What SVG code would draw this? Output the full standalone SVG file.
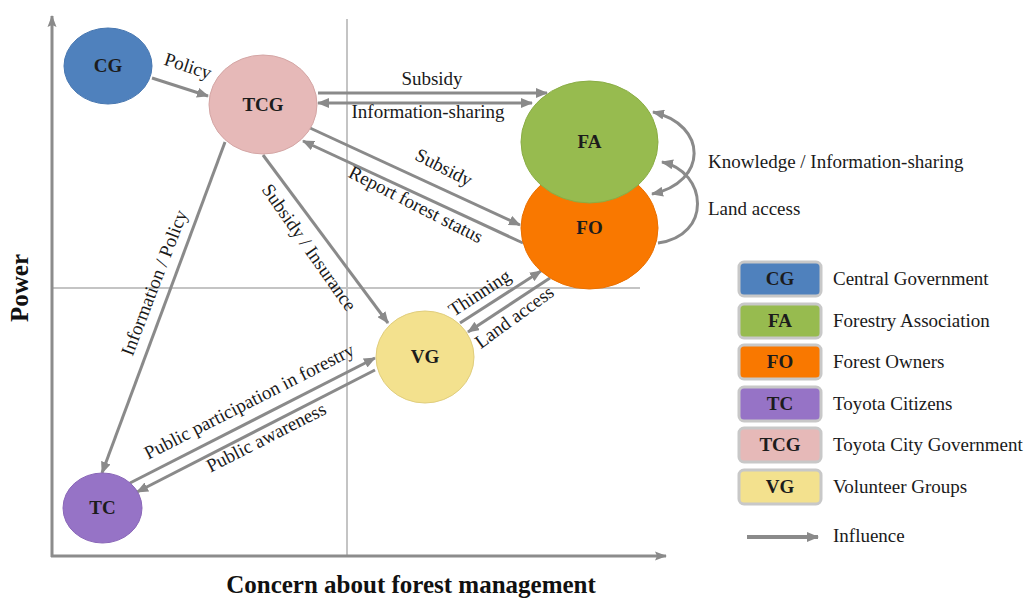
<svg xmlns="http://www.w3.org/2000/svg" width="1029" height="598" viewBox="0 0 1029 598">
  <defs>
    <marker id="arrow" viewBox="0 0 12 10" refX="11" refY="5" markerWidth="12" markerHeight="10" markerUnits="userSpaceOnUse" orient="auto-start-reverse">
      <path d="M0,0 L12,5 L0,10 z" fill="#8a8a8a"/>
    </marker>
    <marker id="axisHead" viewBox="0 0 12 10" refX="11" refY="5" markerWidth="12" markerHeight="10" markerUnits="userSpaceOnUse" orient="auto">
      <path d="M0,0.5 L12,5 L0,9.5 L2,5 z" fill="#8a8a8a"/>
    </marker>
    <style>
      .axis { stroke: #8c8c8c; stroke-width: 3; fill: none; }
      .quad { stroke: #c4c4c4; stroke-width: 2; fill: none; }
      .edge { stroke: #8a8a8a; stroke-width: 3; fill: none; marker-end: url(#arrow); }
      .both { marker-start: url(#arrow); }
      .node-label { font-family: "Liberation Serif", "Times New Roman", serif; font-weight: bold; font-size: 19px; fill: #1c1c1c; text-anchor: middle; }
      .edge-label { font-family: "Liberation Serif", "Times New Roman", serif; font-size: 19px; fill: #1a1a1a; text-anchor: middle; }
      .legend-text { font-family: "Liberation Serif", "Times New Roman", serif; font-size: 19px; fill: #1a1a1a; }
      .axis-label { font-family: "Liberation Serif", "Times New Roman", serif; font-weight: bold; font-size: 25px; fill: #111; text-anchor: middle; }
      .legend-box { stroke: #c8c8c8; stroke-width: 3; }
    </style>
  </defs>

  <rect width="1029" height="598" fill="#ffffff"/>

  <!-- quadrant grid -->
  <g id="grid">
    <line class="quad" x1="347" y1="19" x2="347" y2="556"/>
    <line class="quad" x1="52" y1="288" x2="640" y2="288"/>
  </g>

  <!-- axes -->
  <g id="axes">
    <line class="axis" x1="52" y1="557" x2="52" y2="16" marker-end="url(#axisHead)"/>
    <line class="axis" x1="51" y1="556" x2="666" y2="556" marker-end="url(#axisHead)"/>
    <text class="axis-label" transform="rotate(-90 28 288)" x="28" y="288">Power</text>
    <text class="axis-label" x="411" y="593">Concern about forest management</text>
  </g>

  <!-- connectors -->
  <g id="connectors">
    <line class="edge" x1="152" y1="78" x2="208" y2="96"/>
    <line class="edge" x1="318" y1="93" x2="547" y2="93"/>
    <line class="edge both" x1="318" y1="103" x2="532" y2="103"/>
    <line class="edge" x1="310" y1="128" x2="520" y2="225"/>
    <line class="edge" x1="523" y1="243" x2="303" y2="141"/>
    <line class="edge" x1="263" y1="155" x2="388" y2="323"/>
    <line class="edge" x1="225" y1="142" x2="102" y2="473"/>
    <line class="edge" x1="130" y1="483" x2="375" y2="358"/>
    <line class="edge" x1="375" y1="370" x2="137" y2="492"/>
    <line class="edge" x1="460" y1="323" x2="541" y2="271"/>
    <line class="edge" x1="550" y1="278" x2="468" y2="332"/>
    <path class="edge both" d="M653,112 C708,125 708,182 652,194"/>
    <path class="edge" d="M658,243 C712,236 708,172 662,162"/>
  </g>

  <!-- connector labels -->
  <g id="connector-labels">
    <text class="edge-label" transform="rotate(18 186 72)" x="186" y="72">Policy</text>
    <text class="edge-label" x="432" y="85">Subsidy</text>
    <text class="edge-label" x="428" y="118">Information-sharing</text>
    <text class="edge-label" transform="rotate(27 441 173)" x="441" y="173">Subsidy</text>
    <text class="edge-label" transform="rotate(27 413 210)" x="413" y="210">Report forest status</text>
    <text class="edge-label" transform="rotate(55 304 251)" x="304" y="251">Subsidy / Insurance</text>
    <text class="edge-label" transform="rotate(-69 160 285)" x="160" y="285">Information / Policy</text>
    <text class="edge-label" transform="rotate(-27 252 407)" x="252" y="407">Public participation in forestry</text>
    <text class="edge-label" transform="rotate(-27 269 443)" x="269" y="443">Public awareness</text>
    <text class="edge-label" transform="rotate(-33 483 298)" x="483" y="298">Thinning</text>
    <text class="edge-label" transform="rotate(-36 518 322)" x="518" y="322">Land access</text>
    <text class="legend-text" x="708" y="168">Knowledge / Information-sharing</text>
    <text class="legend-text" x="708" y="215">Land access</text>
  </g>

  <!-- stakeholder nodes -->
  <g id="node-CG">
    <ellipse cx="108" cy="66" rx="44" ry="38" fill="#4f81bd" stroke="#4676b0" stroke-width="1"/>
    <text class="node-label" x="108" y="72">CG</text>
  </g>
  <g id="node-TCG">
    <ellipse cx="263" cy="104.5" rx="54" ry="49.5" fill="#e6b9b8" stroke="#d4a6a5" stroke-width="1"/>
    <text class="node-label" x="263" y="111">TCG</text>
  </g>
  <g id="node-FO">
    <ellipse cx="589.5" cy="228" rx="68.5" ry="61" fill="#f97800" stroke="#ea7000" stroke-width="1"/>
    <text class="node-label" x="589.5" y="234">FO</text>
  </g>
  <g id="node-FA">
    <ellipse cx="589.5" cy="142" rx="68.5" ry="61" fill="#97bb4f" stroke="#8aad45" stroke-width="1"/>
    <text class="node-label" x="589.5" y="148">FA</text>
  </g>
  <g id="node-VG">
    <ellipse cx="425" cy="357" rx="49" ry="46" fill="#f3e18e" stroke="#e0cd7c" stroke-width="1"/>
    <text class="node-label" x="425" y="363">VG</text>
  </g>
  <g id="node-TC">
    <ellipse cx="102.5" cy="508" rx="39.5" ry="35" fill="#9673c6" stroke="#8a67b8" stroke-width="1"/>
    <text class="node-label" x="102.5" y="514">TC</text>
  </g>

  <!-- legend -->
  <g id="legend">
    <rect class="legend-box" x="739" y="262" width="82" height="34" rx="5" fill="#4f81bd"/>
    <text class="node-label" x="780" y="285">CG</text>
    <text class="legend-text" x="833" y="285">Central Government</text>

    <rect class="legend-box" x="739" y="304" width="82" height="34" rx="5" fill="#97bb4f"/>
    <text class="node-label" x="780" y="327">FA</text>
    <text class="legend-text" x="833" y="327">Forestry Association</text>

    <rect class="legend-box" x="739" y="345" width="82" height="34" rx="5" fill="#f97800"/>
    <text class="node-label" x="780" y="368">FO</text>
    <text class="legend-text" x="833" y="368">Forest Owners</text>

    <rect class="legend-box" x="739" y="387" width="82" height="34" rx="5" fill="#9673c6"/>
    <text class="node-label" x="780" y="410">TC</text>
    <text class="legend-text" x="833" y="410">Toyota Citizens</text>

    <rect class="legend-box" x="739" y="428" width="82" height="34" rx="5" fill="#e6b9b8"/>
    <text class="node-label" x="780" y="451">TCG</text>
    <text class="legend-text" x="833" y="451">Toyota City Government</text>

    <rect class="legend-box" x="739" y="470" width="82" height="34" rx="5" fill="#f3e18e"/>
    <text class="node-label" x="780" y="493">VG</text>
    <text class="legend-text" x="833" y="493">Volunteer Groups</text>

    <line x1="747" y1="537" x2="818" y2="537" stroke="#8a8a8a" stroke-width="4" marker-end="url(#arrow)"/>
    <text class="legend-text" x="833" y="542">Influence</text>
  </g>
</svg>
